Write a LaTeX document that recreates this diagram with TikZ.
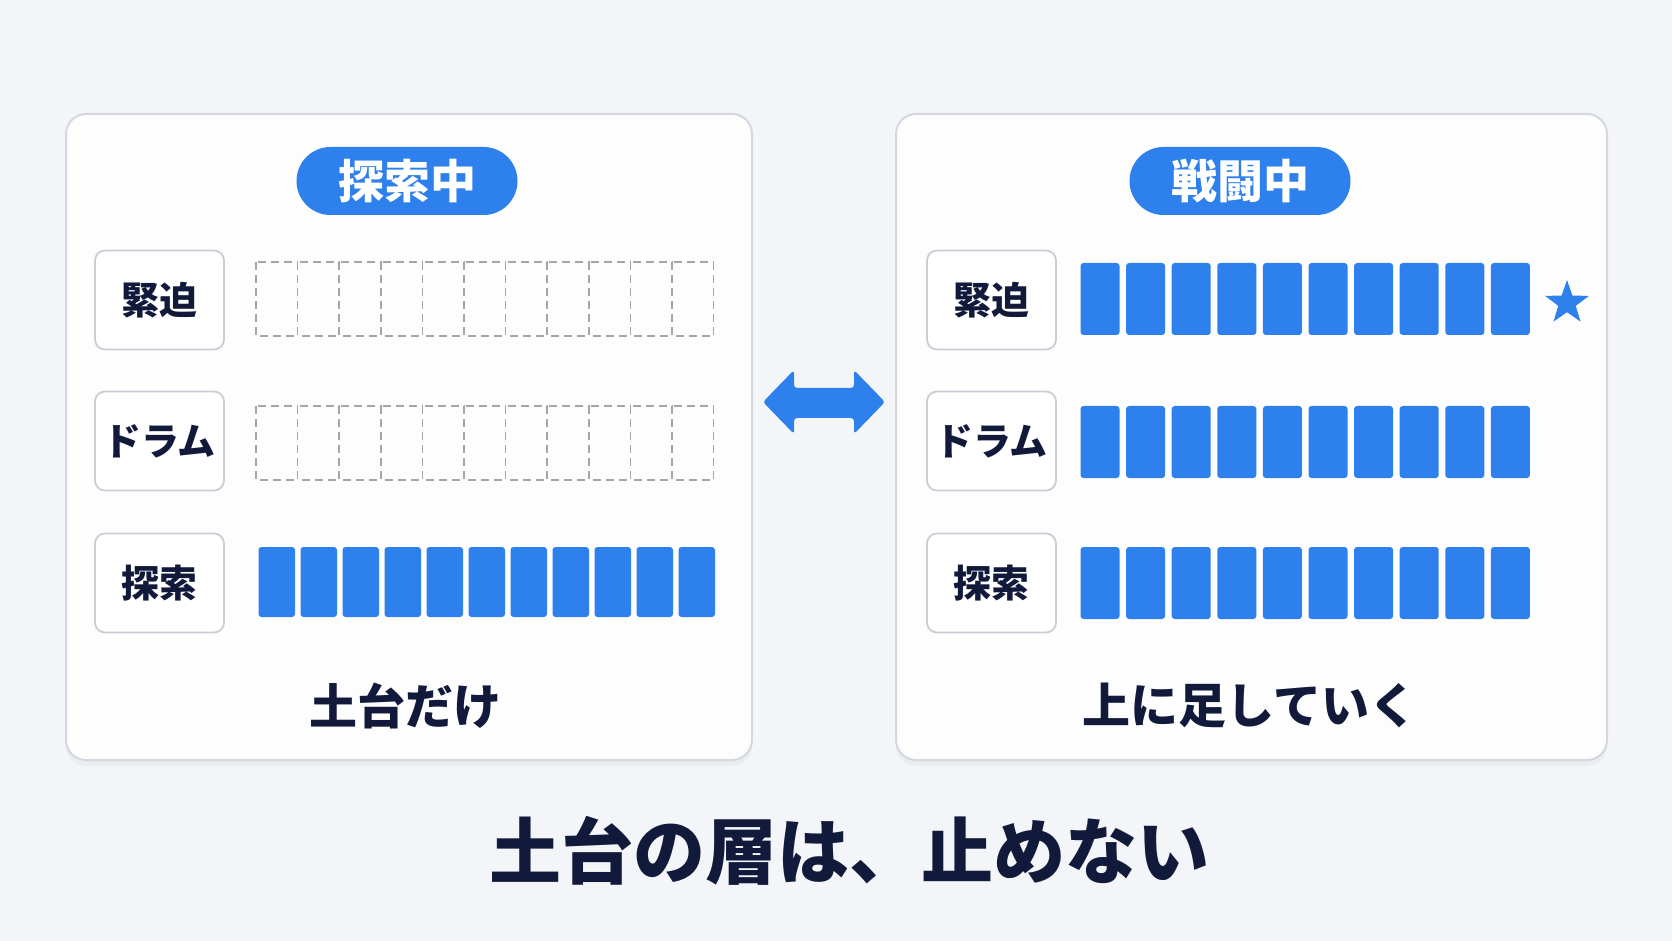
\documentclass[tikz,border=0pt]{standalone}
\usepackage{fontspec}
\setmainfont{Noto Sans CJK JP}
\usetikzlibrary{shadows,shapes.geometric}
\definecolor{bgc}{HTML}{F4F5F8}
\definecolor{panelfill}{HTML}{FDFDFE}
\definecolor{panelline}{HTML}{D3D8E0}
\definecolor{boxline}{HTML}{C9CED6}
\definecolor{accent}{HTML}{2E80EC}
\definecolor{navy}{HTML}{111A3A}
\definecolor{dashgray}{HTML}{A3A7AD}
\tikzset{
  panel/.style={draw=panelline, line width=1pt, fill=panelfill, rounded corners=10pt,
    drop shadow={opacity=0.07, shadow xshift=0pt, shadow yshift=-3pt}},
  chip/.style={fill=accent, text=white, rounded corners=17pt, minimum width=110.5pt,
    minimum height=34pt, inner sep=0pt, font=\fontsize{23}{23}\selectfont\bfseries},
  lbl/.style={draw=boxline, line width=0.9pt, fill=white, rounded corners=5pt,
    minimum width=64.5pt, minimum height=49.5pt, inner sep=0pt, text=navy,
    font=\fontsize{19}{19}\selectfont\bfseries},
  dashcell/.style={draw=dashgray, line width=0.8pt, dash pattern=on 4pt off 2.5pt},
  bluecell/.style={fill=accent, rounded corners=1.5pt},
  caption/.style={text=navy, font=\fontsize{24}{24}\selectfont\bfseries, inner sep=0pt},
  headline/.style={text=navy, font=\fontsize{36}{36}\selectfont\bfseries, inner sep=0pt},
}
\begin{document}
\begin{tikzpicture}[x=0.5pt,y=-0.5pt]
\useasboundingbox (0,0) rectangle (1672,941);
\fill[bgc] (0,0) rectangle (1672,941);

% panels
\path[panel] (66,114) rectangle (752,760);
\path[panel] (896,114) rectangle (1607,760);

% chips
\node[chip] (c1) at (407,181) {探索中};
\node[chip] (c2) at (1240,181) {戦闘中};

% left labels
\node[lbl] (l1) at (159.5,300) {緊迫};
\node[lbl] (l2) at (159.5,441) {ドラム};
\node[lbl] (l3) at (159.5,583) {探索};
% right labels
\node[lbl] (r1) at (991.5,300) {緊迫};
\node[lbl] (r2) at (991.5,441) {ドラム};
\node[lbl] (r3) at (991.5,583) {探索};

% left bars
\foreach \i in {0,...,10} {
  \draw[dashcell] ({256+\i*41.6},262) rectangle ++(41.6,74);
  \draw[dashcell] ({256+\i*41.6},406) rectangle ++(41.6,74);
  \fill[bluecell] ({258.5+\i*42},547) rectangle ++(36.5,70);
}
% right bars
\foreach \r in {263,406,547} {
  \foreach \i in {0,...,9} {
    \fill[bluecell] ({1080.5+\i*45.6},\r) rectangle ++(39,72);
  }
}
\node[star, star points=5, star point ratio=2.5, fill=accent, minimum size=23pt, inner sep=0pt] (st) at (1567,303) {};

% double arrow
\fill[accent, rounded corners=1.5pt] (763,402) -- (794,370) -- (794,388) -- (854,388) -- (854,370)
  -- (885,402) -- (854,434) -- (854,418) -- (794,418) -- (794,434) -- cycle;

% captions
\node[caption] (cap1) at (405,706) {土台だけ};
\node[caption] (cap2) at (1250,705) {上に足していく};
\node[headline] (title) at (849,851) {土台の層は、止めない};
\end{tikzpicture}
\end{document}
